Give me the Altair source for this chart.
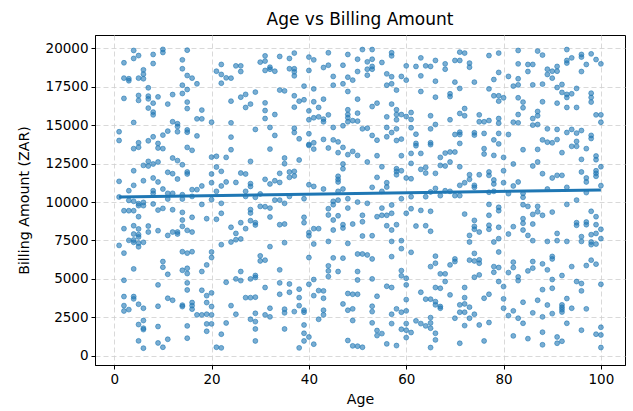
import altair as alt
import pandas as pd

# Patient records as (age in years, billing amount in ZAR), grouped by billing band
high_band = [
    (4,19870),(5,19540),(4,19350),(2,19070),(8,19610),(8,19020),(10,19940),(10,19740),(15,19890),(14,19260),
    (14,18680),(6,18610),(6,18330),(6,18030),(5,18070),(2,18070),(3,18030),(3,17900),(15,18240),(16,18070),
    (17,17700),(14,17610),(15,17330),(22,18960),(22,18310),(21,18520),(22,17740),(7,17440),(2,16750),(5,16940),
    (5,16620),(7,16900),(7,16720),(9,16850),(8,16440),(12,17000),(14,17070),(15,16510),(15,16090),(11,16380),
    (7,16120),(8,15860),(8,15680),(18,15990),(17,15420),(18,15420),(20,15200),(4,15180),(12,15230),(13,15100),
    (13,14920),(11,14620),(13,14580),(15,14700),(15,14550),(17,14310),(1,14580),(1,14010),(8,14250),(10,14360),
    (9,13820),(7,13990),(5,13860),
    (23,18090),(24,18070),(25,18870),(26,18870),(26,18500),(30,19110),(31,19180),(31,19520),(32,18780),(32,18650),
    (31,18570),(33,18520),(34,19480),(36,19350),(37,19700),(36,18680),(37,18680),(37,18480),(37,18220),(40,19440),
    (41,19260),(40,18570),(44,19720),(43,18760),(44,18910),(45,18180),(45,17610),(47,18910),(48,19610),(48,18130),
    (49,17940),(47,17700),(48,17200),(39,17550),(41,17370),(34,17290),(35,17240),(37,16920),(29,17160),(26,16830),
    (27,17010),(28,16380),(27,16160),(24,16570),(31,16460),(31,15960),(33,15700),(38,16570),(39,16660),(37,16180),
    (41,16530),(43,16700),(42,16160),(40,15940),(41,15490),(42,15550),(43,15400),(43,15230),(44,15680),(48,16010),
    (48,15700),(48,15490),(47,14970),(48,15230),(49,15300),(24,15160),(31,15440),(40,15360),(45,14860),(32,14860),
    (29,14730),(37,14810),(37,14530),(33,14340),(24,14230),(38,14120),(40,14450),(43,14080),(45,14050),(46,13920),
    (41,13860),(40,13750),
    (51,19930),(53,19930),(57,19720),(57,19520),(50,19300),(52,19130),(53,19300),(52,18650),(53,18830),(53,18650),
    (55,19090),(50,18500),(52,18260),(56,18350),(57,18160),(56,17610),(57,17700),(58,17290),(59,18180),(60,17940),
    (60,18870),(62,18830),(63,19390),(63,18220),(64,18870),(65,18830),(66,19220),(66,17870),(68,19000),(68,18650),
    (70,19220),(71,19220),(71,19760),(72,19700),(73,19050),(73,18780),(70,17810),(74,17810),(71,17400),(63,17200),
    (66,16830),(69,17050),(69,16870),(50,16700),(53,16220),(54,16440),(57,16380),(58,16010),(58,15700),(58,15360),
    (59,15700),(60,15570),(61,15830),(56,15550),(50,15790),(50,15270),(51,14770),(52,14810),(56,14860),(58,14770),
    (57,14530),(61,15380),(61,14840),(62,14420),(65,15620),(66,15050),(65,14770),(69,15360),(71,15770),(72,15620),
    (72,16090),(75,15680),(75,15230),(70,14400),(71,14550),(71,14400),(74,14510),(74,14360),(53,14340),(54,14030),
    (56,14250),(58,14010),(59,14100),(62,13820),(65,13860),(71,13820),
    (77,19540),(79,19700),(83,19870),(87,19830),(88,19570),(93,19930),(94,19390),(93,19220),(93,19050),(96,19610),
    (96,19440),(98,19650),(99,19280),(100,19000),(97,18960),(96,18500),(83,19000),(85,18960),(86,18960),(85,18500),
    (89,18650),(90,18520),(91,18830),(91,18520),(89,18310),(90,18070),(79,18440),(81,18180),(78,17980),(83,18030),
    (82,17550),(83,17630),(86,17630),(88,17680),(91,17460),(92,17660),(95,17400),(77,17370),(78,16920),(79,16920),
    (80,16790),(79,16570),(83,16790),(84,16510),(84,16140),(92,17140),(93,17010),(93,16810),(94,17050),(98,17090),
    (98,16810),(98,16510),(88,16530),(91,16440),(93,16160),(95,16160),(87,15900),(87,15620),(86,15440),(83,15700),
    (86,15010),(87,15050),(99,15680),(100,15680),(100,15200),(79,15440),(79,15140),(77,15310),(76,15230),(82,15200),
    (83,15160),(76,14470),(79,14470),(81,14400),(89,14770),(91,14730),(93,14530),(94,14730),(95,14490),(96,14660),
    (98,14340),(98,14140),(78,14050),(79,13790),(88,14050),(89,13900),(90,13860),(91,14070),(95,13950),
]

mid_band = [
    (4,13480),(5,13570),(9,13520),(10,13480),(15,13560),(16,13370),(20,12930),(21,12980),(7,12650),(6,12390),
    (7,12350),(8,12480),(9,12610),(12,12870),(13,12700),(14,12430),(4,12040),(11,11940),(12,11850),(15,11960),
    (15,11830),(13,11500),(21,12280),(22,12000),(20,11830),(1,11350),(6,11390),(8,11570),(9,11310),(4,11090),
    (3,10740),(8,10740),(8,10570),(10,10850),(12,10570),(11,10570),(14,10480),(16,10810),(17,10810),(18,11050),
    (16,10370),(20,11260),(22,11050),(21,10700),(1,10330),(3,10110),(4,10050),(5,9900),(6,9980),(6,9770),
    (5,9770),(8,9880),(9,9480),(10,9590),(12,9500),(14,10200),(11,10200),(18,9850),(20,10160),(22,9920),
    (2,9440),(3,9440),(4,9440),(5,9050),(14,9330),(14,8830),(14,8420),(16,9010),(19,8920),(21,8880),
    (22,9270),(2,8270),(4,8460),(7,8440),(7,8050),(5,8250),(4,7920),(5,7880),(5,7730),(9,8140),
    (11,7830),(12,8050),(13,8050),(13,7920),(15,8160),(16,8050),(3,7510),(4,7380),(5,7330),(6,7380),
    (4,7530),(1,7180),(2,6680),(5,7090),(14,6770),(15,6680),(16,6770),(20,6750),(22,7230),
    (24,13410),(23,12910),(32,13450),(40,13690),(41,13450),(44,13520),(47,13560),(46,13220),(48,13090),(49,13300),
    (28,12650),(35,12870),(35,12500),(38,12740),(47,12480),(47,12170),(26,11890),(27,11830),(23,11310),(25,11280),
    (28,11200),(28,11020),(31,11480),(32,11180),(33,11390),(34,11280),(34,11870),(36,11960),(37,12000),(36,11610),
    (37,11700),(40,11130),(41,11020),(43,10850),(46,11680),(46,11480),(46,11310),(46,10700),(47,10850),(27,10700),
    (27,10370),(29,10310),(30,10530),(33,10130),(34,10130),(35,9920),(36,10370),(39,10220),(45,10050),(46,10130),
    (48,10220),(44,9570),(45,9830),(48,9610),(30,9720),(31,9700),(32,9610),(28,9510),(28,9290),(28,8790),
    (29,8660),(29,8510),(24,8360),(26,8660),(27,8270),(25,7960),(26,7600),(25,7550),(24,7400),(32,9030),
    (34,8530),(35,8570),(39,9010),(39,8660),(40,8010),(40,7810),(41,8270),(42,8270),(44,9160),(45,8830),
    (46,9110),(47,8530),(47,8310),(49,8570),(45,8180),(35,7360),(32,7100),(41,7270),(44,7440),(48,7310),
    (50,13040),(52,12610),(54,13020),(59,13020),(61,13170),(61,12520),(62,13670),(63,13170),(65,13740),(67,12910),
    (68,13190),(69,13260),(70,13260),(67,12390),(68,12350),(69,12610),(71,12300),(55,12300),(58,12170),(58,12000),
    (58,11780),(59,12040),(63,12130),(64,12260),(64,11890),(66,11870),(54,11610),(60,11570),(61,11520),(56,11260),
    (56,10980),(53,10960),(55,10700),(72,11260),(73,11480),(73,11780),(71,11090),(74,11090),(74,10960),(75,11780),
    (66,10890),(65,10660),(64,10350),(67,10420),(68,10740),(69,10700),(70,10420),(71,10420),(61,10350),(59,10220),
    (50,10000),(52,9920),(55,9610),(57,9810),(61,9570),(60,9270),(63,9460),(65,9400),(51,9140),(51,8720),
    (54,9050),(55,9140),(56,9140),(57,9270),(56,8460),(58,8530),(57,8180),(72,9220),(74,8810),(74,8420),
    (74,8230),(75,8050),(73,7830),(62,8440),(64,8460),(65,8100),(51,7790),(53,7810),(57,7440),(59,7490),
    (73,7400),(59,6970),(61,6730),(50,6620),(51,6620),(74,6660),
    (76,13480),(76,13130),(78,13040),(80,12910),(84,13410),(87,13430),(92,13220),(94,13630),(95,13630),(97,13480),
    (96,12780),(99,13000),(99,12760),(100,12300),(82,12480),(86,12350),(87,12610),(77,11960),(77,11740),(80,12040),
    (78,11440),(78,11180),(80,11260),(88,11850),(90,11570),(91,11740),(92,11740),(96,11960),(97,11570),(97,11310),
    (99,12040),(99,11870),(99,11680),(82,11050),(83,11310),(84,10570),(84,10310),(81,10550),(77,10640),(78,10700),
    (89,10850),(93,10960),(100,11070),(97,10620),(95,10130),(93,9850),(77,9850),(79,9660),(79,9440),(84,9830),
    (85,9720),(87,9720),(87,9370),(86,9200),(88,9140),(90,9350),(77,9140),(98,9400),(99,9050),(84,8920),
    (84,8620),(86,8570),(82,8400),(79,8360),(77,8490),(77,8230),(95,8660),(95,8490),(97,8700),(97,8530),
    (99,8530),(100,8230),(98,7880),(99,7960),(100,7620),(84,8180),(81,7920),(85,7830),(79,7620),(78,7400),
    (86,7490),(91,7960),(91,7490),(89,7440),(93,7440),(96,7750),(96,7440),(98,7400),(98,7230),(99,7270),
    (79,6750),
]

low_band = [
    (4,5650),(10,6130),(10,5760),(11,5300),(14,5560),(15,5690),(15,5350),(18,5480),(19,5910),(20,6390),
    (2,4910),(9,4610),(15,4740),(15,4280),(18,4260),(19,3910),(20,4090),(2,3850),(4,3850),(4,3700),
    (2,3260),(2,2910),(3,3000),(5,3350),(6,3090),(9,3220),(11,3740),(12,3610),(14,3290),(14,3200),
    (16,3460),(16,3260),(16,3030),(17,2660),(18,2660),(19,2700),(20,2660),(19,3460),(20,3200),(6,2290),
    (6,1790),(6,1700),(5,2030),(9,1900),(15,1940),(19,2070),(20,2070),(19,1590),(5,965),(6,490),
    (9,830),(10,550),(11,1070),(15,1140),(21,550),(22,510),(22,1400),
    (30,6500),(30,6170),(31,6220),(40,6390),(45,6370),(47,6350),(26,5480),(25,5000),(26,4890),(28,5000),
    (29,5220),(29,5090),(34,5590),(44,5850),(44,5520),(44,5150),(46,5480),(23,4780),(34,4740),(36,4670),
    (31,4440),(38,4330),(38,3780),(36,4130),(40,4650),(41,4960),(42,4240),(43,4220),(43,3740),(41,3910),
    (27,3780),(28,3780),(29,3810),(34,4000),(48,4050),(49,4000),(47,3370),(24,3260),(32,3090),(35,3030),
    (35,2790),(37,2870),(38,3260),(39,2960),(39,2830),(43,2960),(43,2660),(48,2960),(49,3050),(25,2700),
    (29,2760),(31,2660),(32,2530),(28,2370),(29,2220),(23,2130),(42,2370),(49,2290),(29,1740),(35,1740),
    (39,2000),(39,1460),(40,1220),(29,960),(39,960),(38,510),(41,750),(48,990),(49,640),
    (52,6560),(53,6300),(57,6450),(66,6480),(66,6020),(65,5800),(69,5910),(70,6300),(70,6130),(73,6220),
    (74,6170),(75,6020),(75,6240),(50,5480),(50,4930),(53,5000),(59,5540),(59,5200),(60,5040),(67,5330),
    (68,5330),(68,4830),(74,5110),(75,5260),(56,4520),(57,4440),(60,4610),(66,4440),(67,4390),(72,4440),
    (63,4130),(69,3960),(50,4000),(54,3870),(60,3650),(64,3680),(65,3680),(66,3520),(67,3200),(66,3310),
    (67,3090),(72,3780),(72,3370),(71,3310),(71,2830),(72,2830),(73,3160),(74,2700),(73,2440),(53,3220),
    (53,2870),(57,2700),(58,3050),(59,2830),(60,2920),(70,2440),(53,2140),(57,2090),(60,2090),(60,1660),
    (62,2270),(63,2090),(64,1940),(65,2480),(65,2130),(65,1790),(66,1460),(66,1030),(54,1640),(54,1310),
    (55,1440),(59,1720),(61,1510),(60,1180),(72,1960),(75,2000),(50,620),(51,550),(56,770),(58,660),
    (65,530),(71,810),
    (78,5800),(78,5430),(79,5740),(82,6090),(82,5740),(86,6130),(86,5700),(85,5520),(88,5980),(89,5590),
    (90,6460),(90,6300),(94,5800),(97,5870),(98,6220),(99,5960),(81,5410),(83,5130),(83,4890),(92,5220),
    (90,4960),(90,4390),(79,4830),(80,4500),(95,4830),(96,4700),(96,4220),(100,4650),(88,4300),(76,3740),
    (77,4000),(80,3700),(84,3480),(87,3610),(93,3720),(89,3300),(92,3310),(92,3150),(92,3000),(92,2840),
    (94,3090),(97,3050),(80,3090),(81,2610),(83,2440),(84,2110),(82,2920),(86,2790),(88,2530),(90,2740),
    (93,2110),(77,2160),(100,1850),(100,1350),(99,1400),(96,1660),(88,1530),(88,710),(91,1220),(91,810),
    (92,940),(82,1290),(85,1110),(76,960),(100,530),
]

# Least-squares trend line end points
fit_age = [1, 100]
fit_amount = [10330, 10790]

age_ticks = [0, 20, 40, 60, 80, 100]
amount_ticks = [0, 2500, 5000, 7500, 10000, 12500, 15000, 17500, 20000]

BLUE = "#1f77b4"
FONT = "DejaVu Sans"

records = pd.DataFrame(high_band + mid_band + low_band, columns=["Age", "Billing"])
trend = pd.DataFrame({"Age": fit_age, "Billing": fit_amount})

x_enc = alt.X(
    "Age:Q",
    scale=alt.Scale(domain=[-3.95, 104.95], nice=False, zero=False),
    axis=alt.Axis(values=age_ticks, title="Age", format="d"),
)
y_enc = alt.Y(
    "Billing:Q",
    scale=alt.Scale(domain=[-605, 20878], nice=False, zero=False),
    axis=alt.Axis(values=amount_ticks, title="Billing Amount (ZAR)", format="d"),
)

points = alt.Chart(records).mark_circle(
    size=24, color=BLUE, fillOpacity=0.6, stroke=BLUE, strokeOpacity=0.75, strokeWidth=0.8
).encode(x=x_enc, y=y_enc)

line = alt.Chart(trend).mark_line(color=BLUE, strokeWidth=3).encode(x="Age:Q", y="Billing:Q")

chart = (
    alt.layer(points, line)
    .properties(
        width=530,
        height=330,
        autosize=alt.AutoSizeParams(type="none"),
        padding={"left": 95, "top": 35, "right": 8, "bottom": 46},
        title=alt.TitleParams(
            "Age vs Billing Amount", font=FONT, fontSize=17, fontWeight="normal",
            color="black", anchor="middle", offset=6,
        ),
    )
    .configure_view(stroke="black", strokeWidth=1)
    .configure_axis(
        labelFont=FONT, titleFont=FONT, labelFontSize=13.5, titleFontSize=14.2,
        titleFontWeight="normal", labelColor="black", titleColor="black",
        domainColor="black", domainWidth=1, tickColor="black", tickSize=4, tickWidth=1,
        labelPadding=3, grid=True, gridColor="#cfcfcf", gridDash=[5, 3], gridWidth=0.8,
    )
    .configure_axisX(titlePadding=7)
    .configure_axisY(titlePadding=14)
)

chart.save("out.html", embed_options={"renderer": "svg", "actions": False})
